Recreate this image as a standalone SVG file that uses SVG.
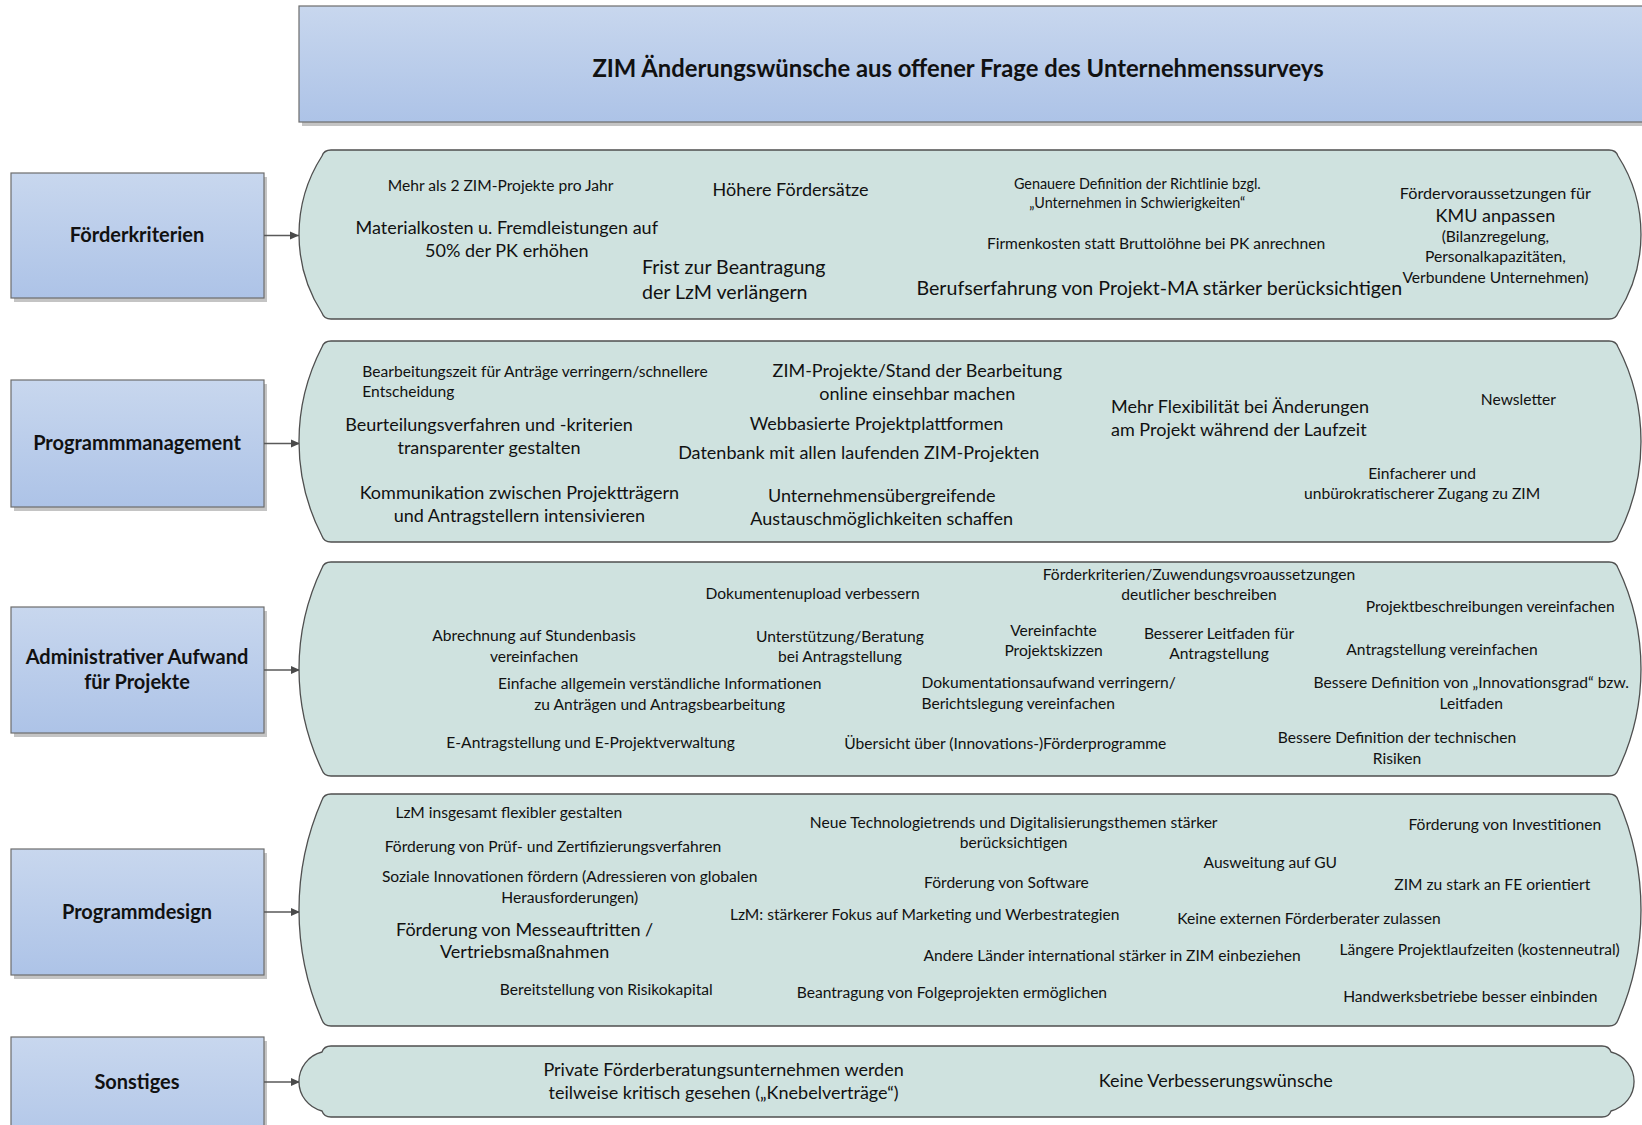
<svg xmlns="http://www.w3.org/2000/svg" width="1642" height="1125" viewBox="0 0 1642 1125">
<style>
text{font-family:Lato,"Liberation Sans",sans-serif;fill:#111}
.s{font-size:15.6px}
.xs{font-size:14.4px}
.m{font-size:18px}
.l{font-size:19.6px}
.c{font-size:20px;font-weight:bold;text-anchor:middle}
.t{font-size:23.8px;font-weight:bold;text-anchor:middle}
.mid{text-anchor:middle}
.box{fill:url(#blue);stroke:#6d6d6d;stroke-width:1.2}
.shadow{fill:#c4c4c4}
.pill{fill:#cfe2df;stroke:#4f4f4f;stroke-width:1.3}
.conn{stroke:#595959;stroke-width:1.3;fill:none;marker-end:url(#arr)}
</style>
<defs>
<linearGradient id="blue" x1="0" y1="0" x2="0" y2="1">
<stop offset="0" stop-color="#c8d7ee"/>
<stop offset="1" stop-color="#adc3e7"/>
</linearGradient>
<marker id="arr" markerWidth="10" markerHeight="10" refX="9" refY="5" orient="auto" markerUnits="userSpaceOnUse">
<path d="M0,1 L9,5 L0,9 Z" fill="#4a4a4a"/>
</marker>
</defs>
<rect width="1642" height="1125" fill="#ffffff"/>

<g id="title">
<rect class="shadow" x="302" y="10" width="1350" height="116"/>
<rect class="box" x="299" y="6" width="1350" height="116"/>
<text class="t" x="958" y="76.5">ZIM Änderungswünsche aus offener Frage des Unternehmenssurveys</text>
</g>

<g id="cat-foerderkriterien">
<rect class="shadow" x="14" y="177" width="253" height="125"/>
<rect class="box" x="11" y="173" width="253" height="125"/>
<text class="c" x="137" y="241.5">Förderkriterien</text>
</g>
<g id="cat-programmmanagement">
<rect class="shadow" x="14" y="384" width="253" height="127"/>
<rect class="box" x="11" y="380" width="253" height="127"/>
<text class="c" x="137" y="450">Programmmanagement</text>
</g>
<g id="cat-administrativ">
<rect class="shadow" x="14" y="611" width="253" height="126"/>
<rect class="box" x="11" y="607" width="253" height="126"/>
<text class="c" x="137" y="663.5">Administrativer Aufwand</text>
<text class="c" x="137" y="688.5">für Projekte</text>
</g>
<g id="cat-programmdesign">
<rect class="shadow" x="14" y="853" width="253" height="126"/>
<rect class="box" x="11" y="849" width="253" height="126"/>
<text class="c" x="137" y="919">Programmdesign</text>
</g>
<g id="cat-sonstiges">
<rect class="shadow" x="14" y="1041" width="253" height="126"/>
<rect class="box" x="11" y="1037" width="253" height="126"/>
<text class="c" x="137" y="1088.5">Sonstiges</text>
</g>

<g id="connectors">
<line class="conn" x1="264" y1="235.5" x2="299" y2="235.5"/>
<line class="conn" x1="264" y1="443.5" x2="300" y2="443.5"/>
<line class="conn" x1="264" y1="670" x2="300" y2="670"/>
<line class="conn" x1="264" y1="912" x2="300" y2="912"/>
<line class="conn" x1="264" y1="1082" x2="300" y2="1082"/>
</g>

<g id="pill-foerderkriterien">
<path class="pill" d="M331,150 H1609 Q1616,150 1618,156 A145.5 145.5 0 0 1 1618,313 Q1616,319 1609,319 H331 Q324,319 322,313 A145.5 145.5 0 0 1 322,156 Q324,150 331,150 Z"/>
<text class="s mid" x="500.6" y="190.5">Mehr als 2 ZIM-Projekte pro Jahr</text>
<text class="m mid" x="790.6" y="196">Höhere Fördersätze</text>
<text class="m mid" x="506.8" y="233.5">Materialkosten u. Fremdleistungen auf</text>
<text class="m mid" x="506.8" y="256.5">50% der PK erhöhen</text>
<text class="l" x="642" y="274">Frist zur Beantragung</text>
<text class="l" x="642" y="299">der LzM verlängern</text>
<text class="xs mid" x="1137.3" y="188.5">Genauere Definition der Richtlinie bzgl.</text>
<text class="xs mid" x="1137.3" y="208.2">„Unternehmen in Schwierigkeiten“</text>
<text class="s mid" x="1156" y="248.5">Firmenkosten statt Bruttolöhne bei PK anrechnen</text>
<text class="l mid" x="1159.3" y="295">Berufserfahrung von Projekt-MA stärker berücksichtigen</text>
<text class="mid" style="font-size:16.2px" x="1495.4" y="198.7">Fördervoraussetzungen für</text>
<text class="m mid" x="1495.4" y="222.2">KMU anpassen</text>
<text class="s mid" x="1495.4" y="242.2">(Bilanzregelung,</text>
<text class="s mid" x="1495.4" y="262.1">Personalkapazitäten,</text>
<text class="s mid" x="1495.4" y="283">Verbundene Unternehmen)</text>
</g>

<g id="pill-programmmanagement">
<path class="pill" d="M331,341 H1609 Q1616,341 1618,347 A205.6 205.6 0 0 1 1618,536 Q1616,542 1609,542 H331 Q324,542 322,536 A205.6 205.6 0 0 1 322,347 Q324,341 331,341 Z"/>
<text class="s" x="362.3" y="377.3">Bearbeitungszeit für Anträge verringern/schnellere</text>
<text class="s" x="362.3" y="397.2">Entscheidung</text>
<text class="m mid" x="489" y="430.5">Beurteilungsverfahren und -kriterien</text>
<text class="m mid" x="489" y="453.5">transparenter gestalten</text>
<text class="m mid" x="519.4" y="498.5">Kommunikation zwischen Projektträgern</text>
<text class="m mid" x="519.4" y="521.5">und Antragstellern intensivieren</text>
<text class="m mid" x="917.3" y="377.2">ZIM-Projekte/Stand der Bearbeitung</text>
<text class="m mid" x="917.3" y="400.2">online einsehbar machen</text>
<text class="m mid" x="876.5" y="429.5">Webbasierte Projektplattformen</text>
<text class="m mid" x="858.7" y="458.9">Datenbank mit allen laufenden ZIM-Projekten</text>
<text class="m mid" x="881.7" y="501.8">Unternehmensübergreifende</text>
<text class="m mid" x="881.7" y="524.9">Austauschmöglichkeiten schaffen</text>
<text class="m" x="1111" y="412.8">Mehr Flexibilität bei Änderungen</text>
<text class="m" x="1111" y="435.9">am Projekt während der Laufzeit</text>
<text class="s mid" x="1518.4" y="404.5">Newsletter</text>
<text class="s mid" x="1422.1" y="478.8">Einfacherer und</text>
<text class="s mid" x="1422.1" y="498.7">unbürokratischerer Zugang zu ZIM</text>
</g>

<g id="pill-administrativ">
<path class="pill" d="M331,562 H1609 Q1616,562 1618,568 A233.3 233.3 0 0 1 1618,770 Q1616,776 1609,776 H331 Q324,776 322,770 A233.3 233.3 0 0 1 322,568 Q324,562 331,562 Z"/>
<text class="s mid" x="1199" y="579.5">Förderkriterien/Zuwendungsvroaussetzungen</text>
<text class="s mid" x="1199" y="600.3">deutlicher beschreiben</text>
<text class="s mid" x="812.6" y="599.3">Dokumentenupload verbessern</text>
<text class="s mid" x="1490.2" y="611.8">Projektbeschreibungen vereinfachen</text>
<text class="s mid" x="534" y="641.2">Abrechnung auf Stundenbasis</text>
<text class="s mid" x="534" y="662.1">vereinfachen</text>
<text class="s mid" x="839.9" y="642.2">Unterstützung/Beratung</text>
<text class="s mid" x="839.9" y="662.1">bei Antragstellung</text>
<text class="s mid" x="1053.5" y="635.9">Vereinfachte</text>
<text class="s mid" x="1053.5" y="655.8">Projektskizzen</text>
<text class="s mid" x="1219" y="639.1">Besserer Leitfaden für</text>
<text class="s mid" x="1219" y="659">Antragstellung</text>
<text class="s mid" x="1442" y="654.8">Antragstellung vereinfachen</text>
<text class="s mid" x="659.7" y="689.3">Einfache allgemein verständliche Informationen</text>
<text class="s mid" x="659.7" y="710.3">zu Anträgen und Antragsbearbeitung</text>
<text class="s" x="921.5" y="688.3">Dokumentationsaufwand verringern/</text>
<text class="s" x="921.5" y="709.2">Berichtslegung vereinfachen</text>
<text class="s mid" x="1471.3" y="688.3">Bessere Definition von „Innovationsgrad“ bzw.</text>
<text class="s mid" x="1471.3" y="709.2">Leitfaden</text>
<text class="s mid" x="590.6" y="748">E-Antragstellung und E-Projektverwaltung</text>
<text class="s mid" x="1005.3" y="749">Übersicht über (Innovations-)Förderprogramme</text>
<text class="s mid" x="1397" y="742.7">Bessere Definition der technischen</text>
<text class="s mid" x="1397" y="763.7">Risiken</text>
</g>

<g id="pill-programmdesign">
<path class="pill" d="M331,794 H1609 Q1616,794 1618,800 A274.5 274.5 0 0 1 1618,1020 Q1616,1026 1609,1026 H331 Q324,1026 322,1020 A274.5 274.5 0 0 1 322,800 Q324,794 331,794 Z"/>
<text class="s mid" x="508.9" y="818.1">LzM insgesamt flexibler gestalten</text>
<text class="s mid" x="552.9" y="851.6">Förderung von Prüf- und Zertifizierungsverfahren</text>
<text class="s mid" x="569.7" y="882">Soziale Innovationen fördern (Adressieren von globalen</text>
<text class="s mid" x="569.7" y="903">Herausforderungen)</text>
<text class="m mid" x="524.6" y="935.5">Förderung von Messeauftritten /</text>
<text class="m mid" x="524.6" y="957.5">Vertriebsmaßnahmen</text>
<text class="s mid" x="606.3" y="995.1">Bereitstellung von Risikokapital</text>
<text class="s mid" x="1013.7" y="827.5">Neue Technologietrends und Digitalisierungsthemen stärker</text>
<text class="s mid" x="1013.7" y="847.5">berücksichtigen</text>
<text class="s mid" x="1006.4" y="888.3">Förderung von Software</text>
<text class="s mid" x="924.7" y="919.7">LzM: stärkerer Fokus auf Marketing und Werbestrategien</text>
<text class="s mid" x="1112.1" y="960.5">Andere Länder international stärker in ZIM einbeziehen</text>
<text class="s mid" x="951.9" y="998.2">Beantragung von Folgeprojekten ermöglichen</text>
<text class="s mid" x="1270.3" y="868.4">Ausweitung auf GU</text>
<text class="s mid" x="1309" y="923.9">Keine externen Förderberater zulassen</text>
<text class="s mid" x="1504.8" y="829.6">Förderung von Investitionen</text>
<text class="s mid" x="1492.3" y="890.4">ZIM zu stark an FE orientiert</text>
<text class="s mid" x="1479.7" y="955.3">Längere Projektlaufzeiten (kostenneutral)</text>
<text class="s mid" x="1470.3" y="1002.4">Handwerksbetriebe besser einbinden</text>
</g>

<g id="pill-sonstiges">
<path class="pill" d="M331,1046 H1602 Q1609,1046 1611,1052 A30.4 30.4 0 0 1 1611,1111 Q1609,1117 1602,1117 H331 Q324,1117 322,1111 A30.4 30.4 0 0 1 322,1052 Q324,1046 331,1046 Z"/>
<text class="m mid" x="723.6" y="1075.7">Private Förderberatungsunternehmen werden</text>
<text class="m mid" x="723.6" y="1098.7">teilweise kritisch gesehen („Knebelverträge“)</text>
<text class="m mid" x="1215.8" y="1087.2">Keine Verbesserungswünsche</text>
</g>
</svg>
